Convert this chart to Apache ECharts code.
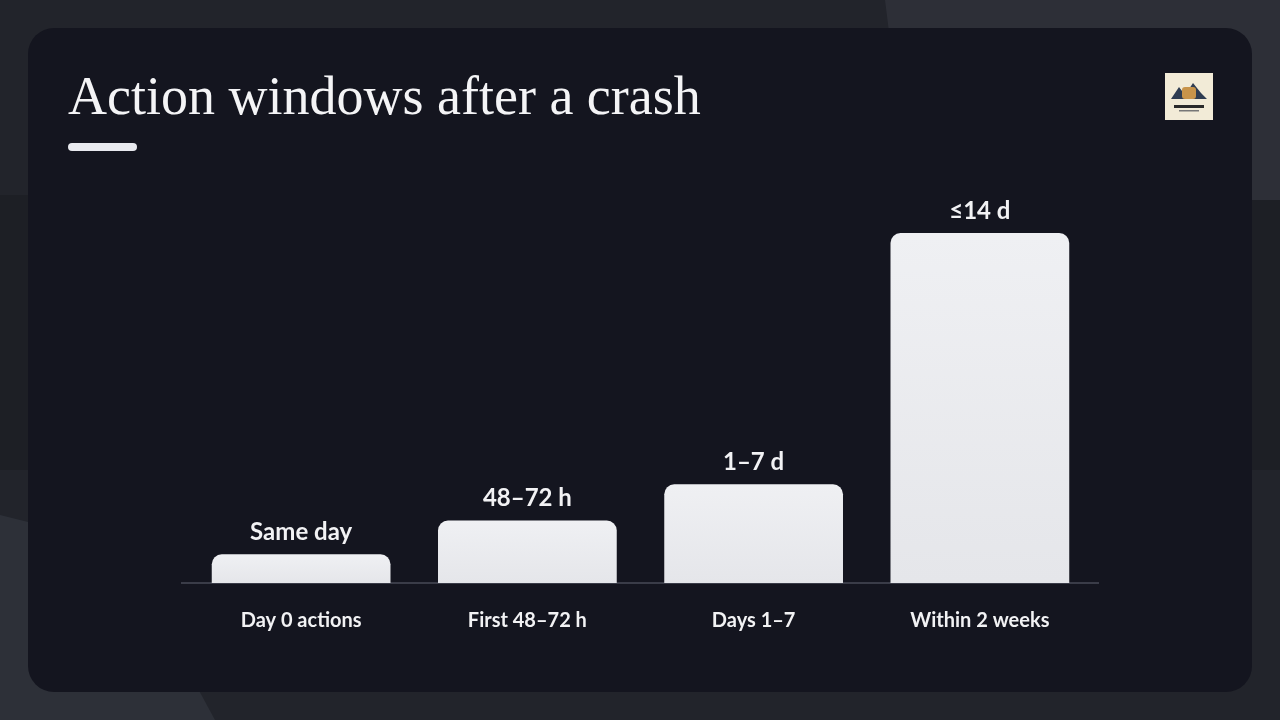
<!DOCTYPE html>
<html><head><meta charset="utf-8">
<style>html,body{margin:0;padding:0;background:#22242b;}#c{width:1280px;height:720px;}</style>
<script src="https://cdn.jsdelivr.net/npm/echarts@6/dist/echarts.min.js"></script>
</head><body><div id="c"></div>
<script>
const categories = ['Day 0 actions', 'First 48–72 h', 'Days 1–7', 'Within 2 weeks'];
const values = [1.15, 2.5, 3.95, 14];
const valueLabels = ['Same day', '48–72 h', '1–7 d', '≤14 d'];
const title = 'Action windows after a crash';

const chart = echarts.init(document.getElementById('c'), null, {renderer: 'canvas'});
chart.setOption({
  backgroundColor: '#22242b',
  animation: false,
  graphic: [
    {type: 'rect', z: -10, shape: {x: 0, y: 195, width: 1280, height: 275}, style: {fill: '#1d1f25'}},
    {type: 'polygon', z: -9, shape: {points: [[885, 0], [1280, 0], [1280, 200], [910, 200]]}, style: {fill: '#2d2f37'}},
    {type: 'polygon', z: -9, shape: {points: [[0, 515], [120, 545], [215, 720], [0, 720]]}, style: {fill: '#2d3038'}},
    {type: 'rect', z: -8, shape: {x: 28, y: 28, width: 1224, height: 664, r: 26}, style: {fill: '#14151f'}},
    {type: 'text', left: 68, top: 73, style: {text: title, fill: '#f4f4f6', font: '400 54px "Liberation Serif", "DejaVu Serif", serif'}},
    {type: 'rect', shape: {x: 68, y: 143, width: 69, height: 8, r: 4}, style: {fill: '#e8e9ee'}},
    {type: 'line', z: 1, shape: {x1: 181, y1: 583, x2: 1099, y2: 583}, style: {stroke: '#3a3c48', lineWidth: 2}},
    {type: 'group', left: 1165, top: 73, children: [
      {type: 'rect', shape: {x: 0, y: 0, width: 48, height: 47}, style: {fill: '#f2ebd7'}},
      {type: 'polygon', shape: {points: [[6, 26], [14, 14], [20, 22], [28, 10], [36, 20], [42, 26]]}, style: {fill: '#2f3d52'}},
      {type: 'rect', shape: {x: 17, y: 14, width: 14, height: 12, r: 3}, style: {fill: '#c8944a'}},
      {type: 'rect', shape: {x: 9, y: 32, width: 30, height: 3}, style: {fill: '#2a2a2a'}},
      {type: 'rect', shape: {x: 14, y: 37, width: 20, height: 1.5}, style: {fill: '#777'}}
    ]}
  ],
  grid: {left: 188, right: 187, top: 233, bottom: 137, containLabel: false},
  xAxis: {
    type: 'category', data: categories,
    axisLine: {show: true, lineStyle: {color: '#3a3c48', width: 2}},
    axisTick: {show: false},
    axisLabel: {color: '#f2f2f4', fontSize: 20, fontWeight: 'bold', fontFamily: 'Lato, "Noto Sans", sans-serif', margin: 28}
  },
  yAxis: {type: 'value', min: 0, max: 14, show: false, splitLine: {show: false}},
  series: [{
    type: 'bar', data: values, barWidth: '79%', z: 3,
    itemStyle: {
      borderRadius: [10, 10, 0, 0],
      color: new echarts.graphic.LinearGradient(0, 0, 0, 1, [{offset: 0, color: '#eff0f3'}, {offset: 1, color: '#e5e6ea'}])
    },
    label: {
      show: true, position: 'top', distance: 10,
      formatter: p => valueLabels[p.dataIndex],
      color: '#f2f2f4', fontSize: 24, fontWeight: 'bold', fontFamily: 'Lato, "Noto Sans", sans-serif'
    }
  }]
});
</script></body></html>
